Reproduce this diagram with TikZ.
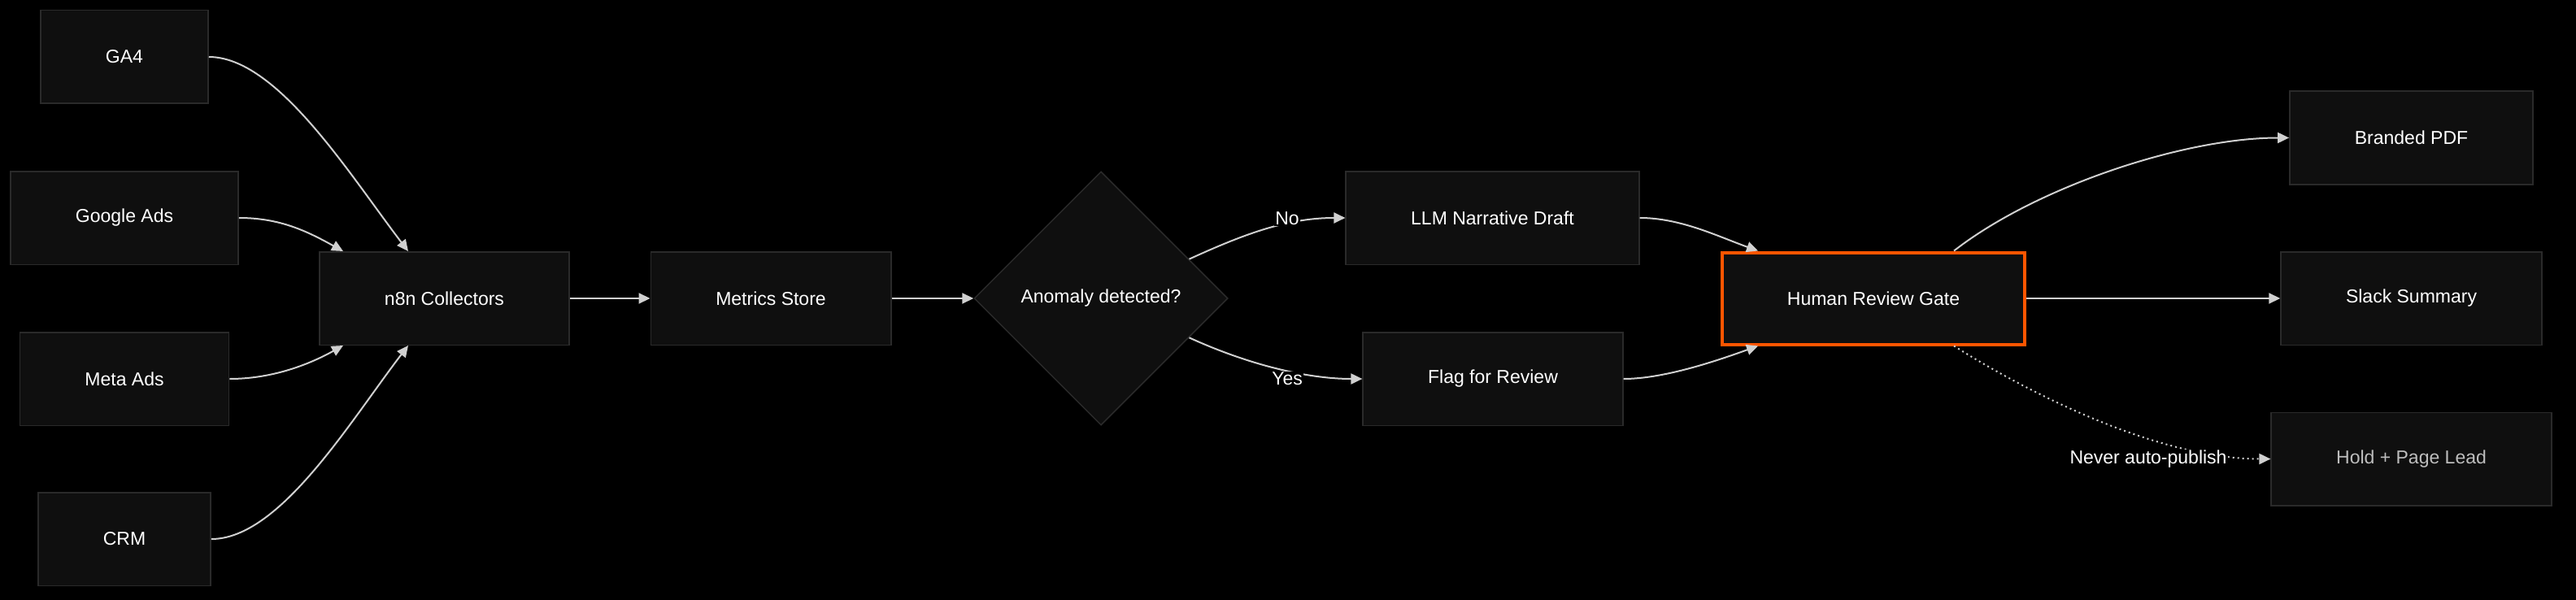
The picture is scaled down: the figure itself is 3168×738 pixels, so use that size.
\documentclass[tikz,border=0pt]{standalone}
\usepackage{fontspec}
\setmainfont{Liberation Sans}
\usetikzlibrary{shapes.geometric,arrows.meta,calc}
\definecolor{boxfill}{HTML}{0F0F0F}
\definecolor{boxline}{HTML}{2A2A2A}
\definecolor{edgecol}{HTML}{D0D0D0}
\definecolor{gate}{HTML}{FF5500}
\definecolor{dimtext}{HTML}{BDBDBD}
\begin{document}
\begin{tikzpicture}[x=1pt,y=-1pt,
  txt/.style={font=\fontsize{23}{28}\selectfont},
  box/.style={txt, draw=boxline, line width=1.5pt, fill=boxfill, text=white,
    inner xsep=80pt, inner ysep=0pt, minimum height=114.5pt},
  gatebox/.style={box, draw=gate, line width=4pt, minimum height=113pt},
  decision/.style={txt, diamond, aspect=1, draw=boxline, line width=1.5pt, fill=boxfill,
    text=white, minimum width=312pt, minimum height=312pt, inner sep=0pt},
  flow/.style={draw=edgecol, line width=2pt, -{Triangle[length=14pt,width=13pt]}},
  dotflow/.style={flow, dash pattern=on 2pt off 4pt},
  lbl/.style={txt, text=white, fill=black, inner sep=1pt}
]
\fill[black] (0,0) rectangle (3168,738);
\useasboundingbox (0,0) rectangle (3168,738);

% sources
\node[box] (ga4)  at (153,70)  {GA4};
\node[box] (gads) at (153,268) {Google Ads};
\node[box] (meta) at (153,466) {Meta Ads};
\node[box] (crm)  at (153,663) {CRM};

\node[box] (n8n) at (546.5,367) {n8n Collectors};
\node[box] (metrics) at (948,367) {Metrics Store};
\node[decision] (anom) at (1354,367) {Anomaly detected?};

\node[box] (llm)  at (1835.5,268) {LLM Narrative Draft};
\node[box] (flag) at (1836,466) {Flag for Review};

\node[gatebox] (hrg) at (2304,367) {Human Review Gate};

\node[box] (pdf)   at (2965.5,169.5) {Branded PDF};
\node[box] (slack) at (2965.5,367) {Slack Summary};
\node[box, text=dimtext] (hold) at (2965.5,564.5) {Hold + Page Lead};

% connectors
\draw[flow] (ga4.east) .. controls +(84,0) and +(-72,-94) .. ($(n8n.north)+(-44.5,0)$);
\draw[flow] (gads.east) .. controls +(50,0) and +(-45,-25) .. ($(n8n.north)+(-124.5,0)$);
\draw[flow] (meta.east) .. controls +(50,0) and +(-45,25) .. ($(n8n.south)+(-124.5,0)$);
\draw[flow] (crm.east) .. controls +(84,0) and +(-72,94) .. ($(n8n.south)+(-44.5,0)$);

\draw[flow] (n8n.east) -- (metrics.west);
\draw[flow] (metrics.east) -- (anom.west);

\draw[flow] (anom.24) .. controls +(70,-32) and +(-70,0) .. (llm.west);
\draw[flow] (anom.-24) .. controls +(70,32) and +(-70,0) .. (flag.west);

\draw[flow] (llm.east) .. controls +(50,0) and +(-50,-18) .. ($(hrg.north)+(-142,0)$);
\draw[flow] (flag.east) .. controls +(50,0) and +(-50,18) .. ($(hrg.south)+(-142,0)$);

\draw[flow] ($(hrg.north)+(99,0)$) .. controls +(100,-78) and +(-130,0) .. (pdf.west);
\draw[flow] (hrg.east) -- (slack.west);
\draw[dotflow] ($(hrg.south)+(99,0)$) .. controls +(87,55) and +(-140,0) .. (hold.west);

% labels
\node[lbl] (lno)  at (1583,269) {No};
\node[lbl] (lyes) at (1583,466) {Yes};
\node[lbl] (lnever) at (2642,565) {Never auto-publish};
\end{tikzpicture}
\end{document}
